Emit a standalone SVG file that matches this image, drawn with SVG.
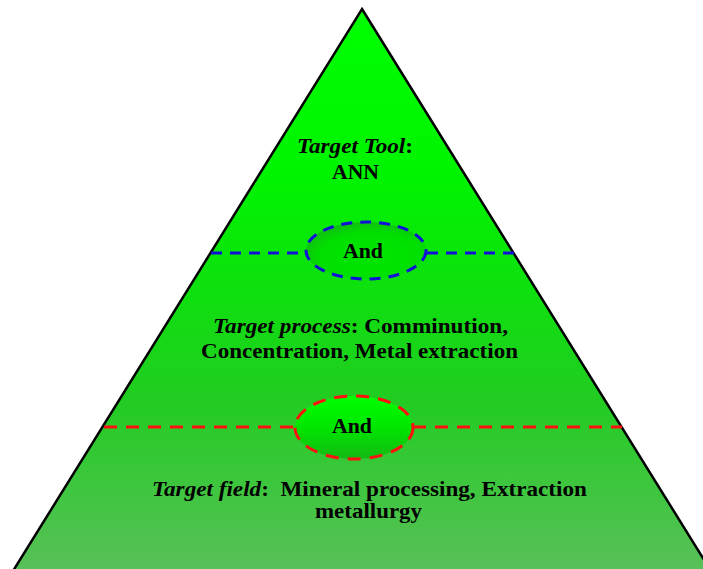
<svg xmlns="http://www.w3.org/2000/svg" width="703" height="569" viewBox="0 0 703 569">
<defs>
<linearGradient id="pyr" x1="0" y1="9" x2="0" y2="569" gradientUnits="userSpaceOnUse">
<stop offset="0" stop-color="#00ff00"/>
<stop offset="0.3" stop-color="#00f400"/>
<stop offset="0.5" stop-color="#0ee00e"/>
<stop offset="0.7" stop-color="#22cc22"/>
<stop offset="0.85" stop-color="#3ec63e"/>
<stop offset="1" stop-color="#58c058"/>
</linearGradient>
<radialGradient id="ellB" cx="0.55" cy="0.6" r="0.6">
<stop offset="0" stop-color="#00e600"/>
<stop offset="0.7" stop-color="#00e000"/>
<stop offset="1" stop-color="#10c010"/>
</radialGradient>
<linearGradient id="ellR" x1="0" y1="0" x2="0" y2="1">
<stop offset="0" stop-color="#00ff00"/>
<stop offset="0.5" stop-color="#00e600"/>
<stop offset="1" stop-color="#14b814"/>
</linearGradient>
</defs>
<style>
.t{font-family:"Liberation Serif","Times New Roman",serif;font-weight:bold;font-size:21px;fill:#000}
.i{font-style:italic}
.blue{stroke:#1010d8;stroke-width:3;stroke-dasharray:11 8;fill:none}
.red{stroke:#ff1010;stroke-width:3;stroke-dasharray:13 9;fill:none}
</style>
<g id="pyramid">
<polygon points="362,9 711,571 13,571" fill="url(#pyr)" stroke="#000" stroke-width="2.5"/>
</g>
<g id="connectors">
<line class="blue" x1="211" y1="253" x2="305" y2="253"/>
<line class="blue" x1="427" y1="253" x2="514" y2="253"/>
<line class="red" x1="104" y1="427" x2="295" y2="427"/>
<line class="red" x1="413" y1="427" x2="622" y2="427"/>
</g>
<g id="tool">
<text class="t" x="355" y="153" text-anchor="middle" textLength="116" lengthAdjust="spacingAndGlyphs"><tspan class="i">Target Tool</tspan>:</text>
<text class="t" x="355.5" y="179" text-anchor="middle" textLength="47" lengthAdjust="spacingAndGlyphs">ANN</text>
</g>
<g id="and1">
<ellipse class="blue" cx="366" cy="250.5" rx="60" ry="28.5" style="fill:url(#ellB)"/>
<text class="t" x="363" y="258" text-anchor="middle" textLength="40" lengthAdjust="spacingAndGlyphs">And</text>
</g>
<g id="process">
<text class="t" x="360.5" y="333" text-anchor="middle" textLength="295" lengthAdjust="spacingAndGlyphs"><tspan class="i">Target process</tspan>: Comminution,</text>
<text class="t" x="359.5" y="358" text-anchor="middle" textLength="317" lengthAdjust="spacingAndGlyphs">Concentration, Metal extraction</text>
</g>
<g id="and2">
<ellipse class="red" cx="354" cy="427.5" rx="59" ry="31.5" style="fill:url(#ellR)"/>
<text class="t" x="352" y="433" text-anchor="middle" textLength="40" lengthAdjust="spacingAndGlyphs">And</text>
</g>
<g id="field">
<text class="t" x="369.5" y="496" text-anchor="middle" textLength="435" lengthAdjust="spacingAndGlyphs" style="white-space:pre"><tspan class="i">Target field</tspan>:  Mineral processing, Extraction</text>
<text class="t" x="368.5" y="518" text-anchor="middle" textLength="107" lengthAdjust="spacingAndGlyphs">metallurgy</text>
</g>
</svg>
